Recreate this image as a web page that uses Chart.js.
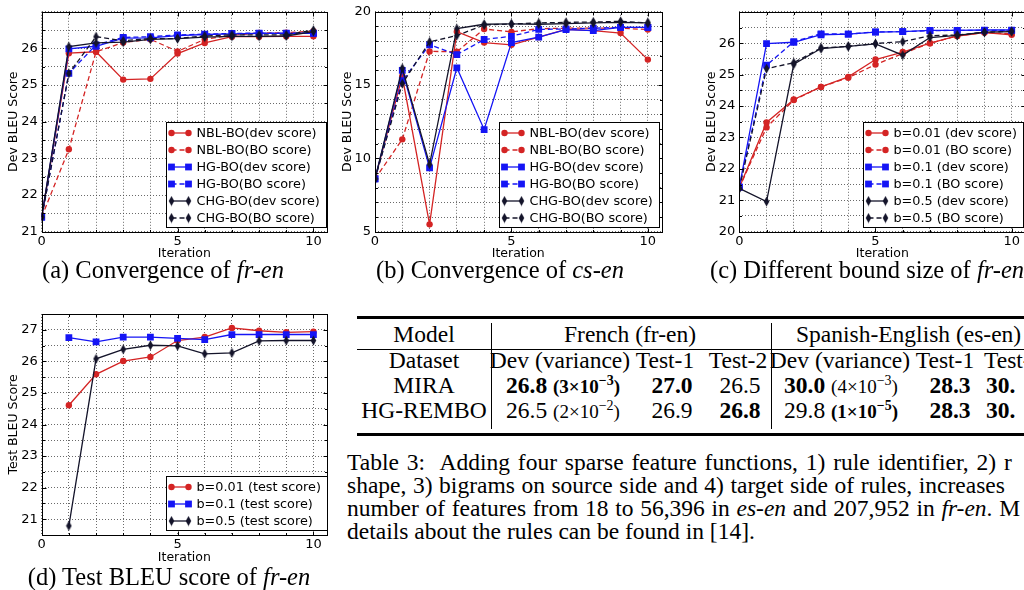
<!DOCTYPE html>
<html>
<head>
<meta charset="utf-8">
<script src="https://cdn.jsdelivr.net/npm/chart.js@4.4.0/dist/chart.umd.min.js"></script>
<style>
  html, body { margin: 0; padding: 0; background: #fff; }
  body { width: 1024px; height: 590px; overflow: hidden; position: relative;
         font-family: "Liberation Serif", "Times New Roman", serif; color: #000; }
  canvas { position: absolute; }
  .cap { position: absolute; font-size: 24.5px; white-space: nowrap; transform: translate(-50%, -50%); line-height: 1; }
  .c { position: absolute; font-size: 23.5px; white-space: nowrap; transform: translate(-50%, -50%); line-height: 1; }
  .l { position: absolute; font-size: 23.5px; white-space: nowrap; transform: translateY(-50%); line-height: 1; }
  .v { font-size: 19px; }
  .v sup { font-size: 14px; vertical-align: 8px; line-height: 0; }
  .rule { position: absolute; left: 357px; width: 700px; background: #000; }
  .vline { position: absolute; top: 323px; height: 106px; width: 1px; background: #000; }
  .txt { position: absolute; left: 347px; font-size: 23.5px; white-space: nowrap; line-height: 1; transform: translateY(-50%); }
</style>
</head>
<body>
<canvas id="c-a" width="335" height="262" style="left:0px;top:0px"></canvas>
<canvas id="c-b" width="335" height="262" style="left:333px;top:0px"></canvas>
<canvas id="c-c" width="340" height="262" style="left:697px;top:0px"></canvas>
<canvas id="c-d" width="335" height="266" style="left:0px;top:300px"></canvas>

<div class="cap" style="left:163px;top:270px">(a) Convergence of <i>fr-en</i></div>
<div class="cap" style="left:500px;top:270px">(b) Convergence of <i>cs-en</i></div>
<div class="cap" style="left:867px;top:270px">(c) Different bound size of <i>fr-en</i></div>
<div class="cap" style="left:169px;top:577px">(d) Test BLEU score of <i>fr-en</i></div>

<!-- Table 3 -->
<div class="rule" style="top:316px;height:3px"></div>
<div class="rule" style="top:349px;height:1px"></div>
<div class="rule" style="top:433px;height:3px"></div>
<div class="vline" style="left:491px"></div>
<div class="vline" style="left:771px"></div>

<div class="c" style="left:424px;top:335px">Model</div>
<div class="c" style="left:630px;top:335px">French (fr-en)</div>
<div class="l" style="left:796px;top:335px">Spanish-English (es-en)</div>

<div class="c" style="left:424px;top:361px">Dataset</div>
<div class="c" style="left:560px;top:361px">Dev (variance)</div>
<div class="c" style="left:665px;top:361px">Test-1</div>
<div class="c" style="left:738px;top:361px">Test-2</div>
<div class="c" style="left:840px;top:361px">Dev (variance)</div>
<div class="c" style="left:945px;top:361px">Test-1</div>
<div class="l" style="left:984px;top:361px">Test-2</div>

<div class="c" style="left:424px;top:386px">MIRA</div>
<div class="c" style="left:563px;top:386px"><b>26.8</b> <span class="v"><b>(3×10<sup>−3</sup>)</b></span></div>
<div class="c" style="left:672px;top:386px"><b>27.0</b></div>
<div class="c" style="left:740px;top:386px">26.5</div>
<div class="c" style="left:841px;top:386px"><b>30.0</b> <span class="v">(4×10<sup>−3</sup>)</span></div>
<div class="c" style="left:950px;top:386px"><b>28.3</b></div>
<div class="l" style="left:986px;top:386px"><b>30.</b></div>

<div class="c" style="left:424px;top:411px">HG-REMBO</div>
<div class="c" style="left:563px;top:411px">26.5 <span class="v">(2×10<sup>−2</sup>)</span></div>
<div class="c" style="left:672px;top:411px">26.9</div>
<div class="c" style="left:740px;top:411px"><b>26.8</b></div>
<div class="c" style="left:841px;top:411px">29.8 <span class="v"><b>(1×10<sup>−5</sup>)</b></span></div>
<div class="c" style="left:950px;top:411px"><b>28.3</b></div>
<div class="l" style="left:986px;top:411px"><b>30.</b></div>

<div class="txt" style="top:463px;word-spacing:2px">Table 3:&nbsp; Adding four sparse feature functions, 1) rule identifier, 2) r</div>
<div class="txt" style="top:486px;word-spacing:0.7px">shape, 3) bigrams on source side and 4) target side of rules, increases</div>
<div class="txt" style="top:509px;word-spacing:0.8px">number of features from 18 to 56,396 in <i>es-en</i> and 207,952 in <i>fr-en</i>. M</div>
<div class="txt" style="top:532px">details about the rules can be found in [14].</div>

<script>
// iterations
const ITER = [0, 1, 2, 3, 4, 5, 6, 7, 8, 9, 10];
const ITER_TEST = [1, 2, 3, 4, 5, 6, 7, 8, 9, 10];

// (a) fr-en convergence
const FR_NBL_DEV = [21.4, 25.87, 25.91, 25.15, 25.17, 25.86, 26.15, 26.32, 26.32, 26.33, 26.33];
const FR_NBL_BO  = [21.4, 23.25, 25.91, 26.16, 26.25, 25.92, 26.25, 26.36, 26.42, 26.43, 26.47];
const FR_HG_DEV  = [21.4, 25.99, 26.06, 26.28, 26.29, 26.35, 26.38, 26.40, 26.41, 26.41, 26.41];
const FR_HG_BO   = [21.4, 25.32, 26.10, 26.30, 26.32, 26.37, 26.39, 26.41, 26.42, 26.42, 26.42];
const FR_CHG_DEV = [21.4, 26.05, 26.15, 26.17, 26.25, 26.27, 26.31, 26.33, 26.33, 26.34, 26.46];
const FR_CHG_BO  = [21.4, 25.32, 26.32, 26.21, 26.27, 26.27, 26.34, 26.37, 26.37, 26.37, 26.50];

// (b) cs-en convergence
const CS_NBL_DEV = [8.6, 15.6, 5.5, 18.65, 17.9, 17.75, 18.27, 18.8, 18.72, 18.55, 16.74];
const CS_NBL_BO  = [8.6, 11.3, 17.3, 17.28, 18.83, 18.63, 18.85, 18.88, 18.88, 18.88, 18.79];
const CS_HG_DEV  = [8.6, 16.0, 9.35, 16.18, 11.97, 17.9, 18.27, 18.79, 18.72, 18.94, 18.94];
const CS_HG_BO   = [8.6, 15.3, 17.75, 17.08, 18.11, 18.33, 18.8, 18.83, 18.88, 18.94, 18.94];
const CS_CHG_DEV = [8.6, 16.15, 9.6, 18.85, 19.15, 19.17, 19.15, 19.2, 19.24, 19.28, 19.24];
const CS_CHG_BO  = [8.6, 15.1, 17.95, 18.38, 19.1, 19.17, 19.24, 19.28, 19.3, 19.35, 19.24];

// (c) bound size, fr-en
const B001_DEV = [21.4, 23.48, 24.21, 24.61, 24.93, 25.48, 25.72, 26.0, 26.23, 26.34, 26.27];
const B001_BO  = [21.4, 23.32, 24.19, 24.61, 24.9, 25.32, 25.67, 26.0, 26.23, 26.34, 26.3];
const B01_DEV  = [21.42, 25.99, 26.03, 26.27, 26.29, 26.35, 26.37, 26.41, 26.41, 26.42, 26.42];
const B01_BO   = [21.42, 25.3, 26.05, 26.3, 26.29, 26.36, 26.37, 26.4, 26.41, 26.41, 26.41];
const B05_DEV  = [21.38, 20.96, 25.33, 25.83, 25.9, 25.98, 25.62, 26.18, 26.25, 26.35, 26.37];
const B05_BO   = [21.38, 25.19, 25.38, 25.85, 25.9, 25.99, 26.05, 26.24, 26.26, 26.35, 26.38];

// (d) test scores, fr-en
const T001 = [24.61, 25.59, 26.01, 26.14, 26.66, 26.77, 27.06, 26.97, 26.92, 26.94];
const T01  = [26.75, 26.62, 26.77, 26.77, 26.73, 26.69, 26.85, 26.85, 26.85, 26.85];
const T05  = [20.79, 26.08, 26.38, 26.51, 26.49, 26.24, 26.27, 26.65, 26.66, 26.66];

// tick labels
const X_TICKS   = [0, 5, 10];
const FR_YTICKS = [21, 22, 23, 24, 25, 26];
const CS_YTICKS = [5, 10, 15, 20];
const BD_YTICKS = [20, 21, 22, 23, 24, 25, 26];
const TS_YTICKS = [21, 22, 23, 24, 25, 26, 27];

const FONT = '"DejaVu Sans", sans-serif';
const RED = '#d42424', BLUE = '#1515f5', DARK = '#14142a';

function thinDiamond(color) {
  const c = document.createElement('canvas');
  c.width = 7; c.height = 11;
  const g = c.getContext('2d');
  g.fillStyle = color;
  g.beginPath();
  g.moveTo(3.5, 0.5); g.lineTo(6.3, 5.5); g.lineTo(3.5, 10.5); g.lineTo(0.7, 5.5);
  g.closePath(); g.fill();
  return c;
}
const DIAMOND = thinDiamond(DARK);

function series(label, xs, ys, color, marker, dashed, i) {
  const r = marker === 'circle' ? 3.2 : marker === 'rect' ? 4.8 : 5;
  return {
    label,
    data: xs.map((x, k) => ({ x, y: ys[k] })),
    borderColor: color, backgroundColor: color, pointBackgroundColor: color,
    borderWidth: 1.3, borderDash: dashed ? [5, 3] : [],
    pointStyle: marker === 'diamond' ? DIAMOND : marker,
    pointRadius: r, pointHoverRadius: r, pointBorderWidth: 0,
    order: 20 - i,
  };
}

const near = (arr, v) => arr.some(t => Math.abs(t - v) < 1e-6);

// full box + inward ticks, like matplotlib axes
const frame = {
  id: 'frame',
  afterDatasetsDraw(chart) {
    const { ctx, chartArea: a, scales: { x, y } } = chart;
    ctx.save();
    ctx.strokeStyle = '#000';
    ctx.lineWidth = 1;
    const L = Math.round(a.left) + 0.5, R = Math.round(a.right) + 0.5;
    const T = Math.round(a.top) + 0.5, B = Math.round(a.bottom) + 0.5;
    ctx.strokeRect(L, T, R - L, B - T);
    ctx.beginPath();
    x.ticks.forEach(t => {
      const px = Math.round(x.getPixelForValue(t.value)) + 0.5;
      const len = t.label !== '' ? 4 : 2.5;
      ctx.moveTo(px, B); ctx.lineTo(px, B - len);
      ctx.moveTo(px, T); ctx.lineTo(px, T + len);
    });
    y.ticks.forEach(t => {
      const py = Math.round(y.getPixelForValue(t.value)) + 0.5;
      const len = t.label !== '' ? 4 : 2.5;
      ctx.moveTo(L, py); ctx.lineTo(L + len, py);
      ctx.moveTo(R, py); ctx.lineTo(R - len, py);
    });
    ctx.stroke();
    ctx.restore();
  }
};

// boxed legend in the lower right of the plot
const boxLegend = {
  id: 'boxLegend',
  afterDraw(chart) {
    const { ctx, chartArea: a } = chart;
    const sets = chart.data.datasets;
    ctx.save();
    ctx.font = '12.8px ' + FONT;
    const textW = Math.max(...sets.map(d => ctx.measureText(d.label).width));
    const rowH = 17, padY = 10, seg = 17;
    const w = Math.round(5 + seg + 8 + textW + 7);
    const h = padY * 2 + rowH * (sets.length - 1);
    const x0 = Math.round(a.left + 124) + 0.5;
    const y0 = Math.round(a.bottom - 5 - h) + 0.5;
    ctx.fillStyle = '#fff';
    ctx.fillRect(x0, y0, w, h);
    ctx.strokeStyle = '#000';
    ctx.lineWidth = 1;
    ctx.strokeRect(x0, y0, w, h);
    sets.forEach((d, i) => {
      const cy = Math.round(y0 + padY + i * rowH);
      const lx = x0 + 5;
      ctx.strokeStyle = d.borderColor;
      ctx.lineWidth = d.borderWidth;
      ctx.setLineDash(d.borderDash);
      ctx.beginPath(); ctx.moveTo(lx, cy); ctx.lineTo(lx + seg, cy); ctx.stroke();
      ctx.setLineDash([]);
      ctx.fillStyle = d.backgroundColor;
      [lx, lx + seg].forEach(px =>
        Chart.helpers.drawPoint(ctx, { pointStyle: d.pointStyle, radius: d.pointRadius, borderWidth: 0, rotation: 0 }, px, cy));
      ctx.fillStyle = '#000';
      ctx.textAlign = 'left';
      ctx.textBaseline = 'middle';
      ctx.fillText(d.label, lx + seg + 8, cy + 0.5);
    });
    ctx.restore();
  }
};

function makeChart(id, datasets, o) {
  return new Chart(document.getElementById(id), {
    type: 'line',
    data: { datasets },
    plugins: [frame, boxLegend],
    options: {
      responsive: false, animation: false, devicePixelRatio: 1,
      layout: { padding: { left: 0, top: o.top, right: o.right, bottom: 0 } },
      plugins: { legend: { display: false }, tooltip: { enabled: false } },
      scales: {
        x: {
          type: 'linear', min: 0, max: 10.5,
          afterFit: s => { s.height = o.xh; },
          ticks: { stepSize: 1, includeBounds: false, autoSkip: false, maxRotation: 0, padding: 2,
                   color: '#000', font: { family: FONT, size: 13 },
                   callback: v => near(X_TICKS, v) ? String(v) : '' },
          grid: { color: '#444', lineWidth: 0.8, drawTicks: false },
          border: { display: false, dash: [1, 2] },
          title: { display: true, text: 'Iteration', color: '#000', font: { family: FONT, size: 12.5 },
                   padding: { top: 0, bottom: 0.5 } },
        },
        y: {
          type: 'linear', min: o.ymin, max: o.ymax,
          afterFit: s => { s.width = o.yw; },
          ticks: { stepSize: o.ystep, autoSkip: false, padding: 4, color: '#000',
                   font: { family: FONT, size: 13 },
                   callback: v => near(o.yticks, v) ? String(v) : '' },
          grid: { color: '#444', lineWidth: 0.8, drawTicks: false },
          border: { display: false, dash: [1, 2] },
          title: { display: true, text: o.ytitle, color: '#000', font: { family: FONT, size: 12.5 },
                   padding: { top: o.tpad, bottom: 0 } },
        },
      },
    },
  });
}

makeChart('c-a', [
  series('NBL-BO(dev score)', ITER, FR_NBL_DEV, RED, 'circle', false, 0),
  series('NBL-BO(BO score)',  ITER, FR_NBL_BO,  RED, 'circle', true, 1),
  series('HG-BO(dev score)',  ITER, FR_HG_DEV,  BLUE, 'rect', false, 2),
  series('HG-BO(BO score)',   ITER, FR_HG_BO,   BLUE, 'rect', true, 3),
  series('CHG-BO(dev score)', ITER, FR_CHG_DEV, DARK, 'diamond', false, 4),
  series('CHG-BO(BO score)',  ITER, FR_CHG_BO,  DARK, 'diamond', true, 5),
], { top: 9, right: 8, xh: 30.3, yw: 41.7, tpad: 6.5, ymin: 21, ymax: 27, ystep: 0.5, yticks: FR_YTICKS, ytitle: 'Dev BLEU Score' });

makeChart('c-b', [
  series('NBL-BO(dev score)', ITER, CS_NBL_DEV, RED, 'circle', false, 0),
  series('NBL-BO(BO score)',  ITER, CS_NBL_BO,  RED, 'circle', true, 1),
  series('HG-BO(dev score)',  ITER, CS_HG_DEV,  BLUE, 'rect', false, 2),
  series('HG-BO(BO score)',   ITER, CS_HG_BO,   BLUE, 'rect', true, 3),
  series('CHG-BO(dev score)', ITER, CS_CHG_DEV, DARK, 'diamond', false, 4),
  series('CHG-BO(BO score)',  ITER, CS_CHG_BO,  DARK, 'diamond', true, 5),
], { top: 9, right: 6.5, xh: 30.3, yw: 42, tpad: 6.8, ymin: 5, ymax: 20, ystep: 1, yticks: CS_YTICKS, ytitle: 'Dev BLEU Score' });

makeChart('c-c', [
  series('b=0.01 (dev score)', ITER, B001_DEV, RED, 'circle', false, 0),
  series('b=0.01 (BO score)',  ITER, B001_BO,  RED, 'circle', true, 1),
  series('b=0.1 (dev score)',  ITER, B01_DEV,  BLUE, 'rect', false, 2),
  series('b=0.1 (BO score)',   ITER, B01_BO,   BLUE, 'rect', true, 3),
  series('b=0.5 (dev score)',  ITER, B05_DEV,  DARK, 'diamond', false, 4),
  series('b=0.5 (BO score)',   ITER, B05_BO,   DARK, 'diamond', true, 5),
], { top: 9, right: 11.7, xh: 30.3, yw: 42.3, tpad: 7.2, ymin: 20, ymax: 27, ystep: 0.5, yticks: BD_YTICKS, ytitle: 'Dev BLEU Score' });

makeChart('c-d', [
  series('b=0.01 (test score)', ITER_TEST, T001, RED, 'circle', false, 0),
  series('b=0.1 (test score)',  ITER_TEST, T01,  BLUE, 'rect', false, 1),
  series('b=0.5 (test score)',  ITER_TEST, T05,  DARK, 'diamond', false, 2),
], { top: 14, right: 8, xh: 31, yw: 41.7, tpad: 6.5, ymin: 20.5, ymax: 27.5, ystep: 0.5, yticks: TS_YTICKS, ytitle: 'Test BLEU Score' });
</script>
</body>
</html>
